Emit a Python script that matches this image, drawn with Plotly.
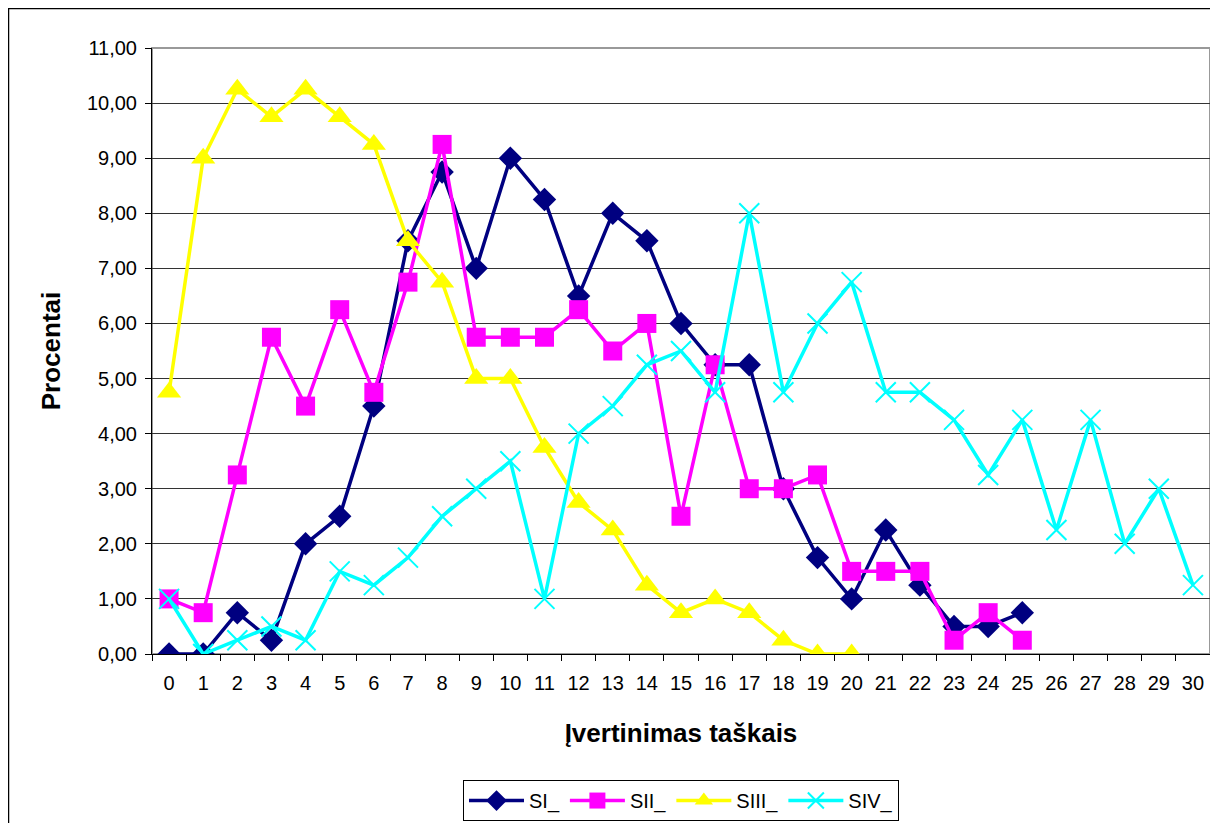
import plotly.graph_objects as go

points = list(range(0, 31))

si = [0, 0, 0.75, 0.25, 2.0, 2.5, 4.5, 7.5, 8.75, 7.0, 9.0, 8.25, 6.5, 8.0, 7.5, 6.0,
      5.25, 5.25, 3.0, 1.75, 1.0, 2.25, 1.25, 0.5, 0.5, 0.75]
sii = [1.0, 0.75, 3.25, 5.75, 4.5, 6.25, 4.75, 6.75, 9.25, 5.75, 5.75, 5.75, 6.25, 5.5, 6.0, 2.5,
       5.25, 3.0, 3.0, 3.25, 1.5, 1.5, 1.5, 0.25, 0.75, 0.25]
siii = [4.75, 9.0, 10.25, 9.75, 10.25, 9.75, 9.25, 7.5, 6.75, 5.0, 5.0, 3.75, 2.75, 2.25, 1.25,
        0.75, 1.0, 0.75, 0.25, 0, 0]
siv = [1.0, 0, 0.25, 0.5, 0.25, 1.5, 1.25, 1.75, 2.5, 3.0, 3.5, 1.0, 4.0, 4.5, 5.25, 5.5, 4.75,
       8.0, 4.75, 6.0, 6.75, 4.75, 4.75, 4.25, 3.25, 4.25, 2.25, 4.25, 2.0, 3.0, 1.25]

names = ["SI_", "SII_", "SIII_", "SIV_"]
colors = ["#000080", "#FF00FF", "#FFFF00", "#00FFFF"]

fig = go.Figure()
fig.add_trace(go.Scatter(x=points[:len(si)], y=si, name=names[0], mode="lines+markers",
                         line=dict(color=colors[0], width=3.5),
                         marker=dict(symbol="diamond", size=18, color=colors[0])))
fig.add_trace(go.Scatter(x=points[:len(sii)], y=sii, name=names[1], mode="lines+markers",
                         line=dict(color=colors[1], width=3.5),
                         marker=dict(symbol="square", size=19, color=colors[1])))
fig.add_trace(go.Scatter(x=points[:len(siii)], y=siii, name=names[2], mode="lines+markers",
                         line=dict(color=colors[2], width=3.5),
                         marker=dict(symbol="triangle-up", size=21, color=colors[2])))
fig.add_trace(go.Scatter(x=points[:len(siv)], y=siv, name=names[3], mode="lines+markers",
                         line=dict(color=colors[3], width=3.5),
                         marker=dict(symbol="x-thin", size=20, color=colors[3],
                                     line=dict(color=colors[3], width=2))))

W, H = 1058, 606
fig.update_layout(
    width=1210, height=815,
    margin=dict(l=144, r=8, t=40, b=169, autoexpand=False),
    paper_bgcolor="white", plot_bgcolor="white",
    separators=",.",
    font=dict(family="Liberation Sans, Arial", size=20, color="black"),
    showlegend=True,
    legend=dict(orientation="h", x=0.5, xanchor="center", y=-0.208, yanchor="top",
                bordercolor="black", borderwidth=1, font=dict(size=20),
                itemwidth=55, traceorder="normal", tracegroupgap=0),
    xaxis=dict(range=[-0.5, 30.5], tickmode="array", tickvals=points,
               ticktext=[str(p) for p in points], ticks="", showgrid=False,
               showline=True, linecolor="black", linewidth=1, zeroline=False,
               automargin=False, tickfont=dict(size=20), ticklabelstandoff=11,
               minor=dict(ticks="outside", tick0=0.5, dtick=1, ticklen=6, tickcolor="black",
                          showgrid=False),
               title=dict(text="<b>Įvertinimas taškais</b>", font=dict(size=26), standoff=30)),
    yaxis=dict(range=[0, 11], tick0=0, dtick=1, tickformat=".2f", ticks="outside",
               ticklen=6, tickcolor="black", showgrid=True, gridcolor="#333333", gridwidth=1,
               showline=True, linecolor="black", linewidth=1, zeroline=False,
               automargin=False, tickfont=dict(size=20), ticklabelstandoff=4,
               title=dict(text="<b>Procentai</b>", font=dict(size=26), standoff=18)),
)

# plot area border (top/right grey)
fig.add_shape(type="rect", xref="paper", yref="paper", x0=0, x1=1, y0=0, y1=1,
              line=dict(color="#999999", width=2), layer="below")
# outer chart frame (left/top visible)
fig.add_shape(type="rect", xref="paper", yref="paper",
              x0=-143.5 / W, x1=1 + 30 / W, y0=-200 / H, y1=1 + 39.5 / H,
              line=dict(color="black", width=1.5), layer="below")

fig.write_html("out.html")
